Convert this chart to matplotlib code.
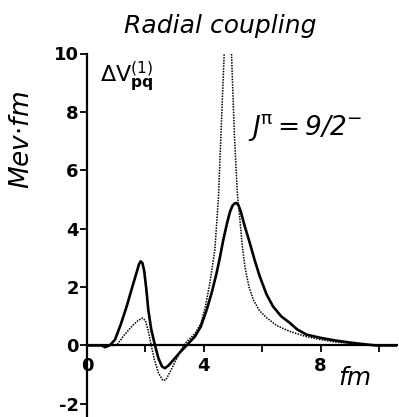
import matplotlib
matplotlib.use("Agg")
import matplotlib.pyplot as plt

plt.rcParams['mathtext.fontset'] = 'custom'
plt.rcParams['mathtext.it'] = 'DejaVu Sans:italic'
plt.rcParams['mathtext.rm'] = 'DejaVu Sans'
plt.rcParams['mathtext.bf'] = 'DejaVu Sans:bold'
plt.rcParams['mathtext.sf'] = 'DejaVu Sans:italic'

# radial coupling form factor, solid curve
solid_x = [0.0, 0.5, 0.62, 0.8, 0.96, 1.15, 1.36, 1.55, 1.7, 1.78, 1.84, 1.9, 1.96, 2.03, 2.1,
           2.2, 2.33, 2.45, 2.57, 2.67, 2.8, 3.0, 3.2, 3.41, 3.7, 3.9, 4.1, 4.27, 4.44, 4.55,
           4.67, 4.8, 4.9, 4.98, 5.05, 5.12, 5.19, 5.27, 5.4, 5.58, 5.75, 5.92, 6.15, 6.37,
           6.65, 6.95, 7.2, 7.52, 8.0, 8.5, 9.0, 9.5, 9.9, 10.6]
solid_y = [0.0, 0.0, -0.06, 0.02, 0.2, 0.7, 1.34, 2.0, 2.5, 2.78, 2.88, 2.82, 2.55, 1.95, 1.22,
           0.55, 0.0, -0.45, -0.72, -0.78, -0.68, -0.45, -0.22, 0.0, 0.31, 0.65, 1.22, 1.8, 2.48,
           3.0, 3.62, 4.2, 4.58, 4.78, 4.86, 4.88, 4.8, 4.58, 4.1, 3.5, 2.9, 2.36, 1.75, 1.34,
           1.0, 0.77, 0.55, 0.37, 0.26, 0.17, 0.1, 0.04, 0.0, 0.0]

# dotted curve
dot_x = [0.0, 0.9, 1.05, 1.24, 1.4, 1.59, 1.75, 1.9, 2.0, 2.1, 2.2, 2.3, 2.45, 2.6, 2.7,
         2.85, 3.0, 3.15, 3.3, 3.5, 3.7, 3.9, 4.05, 4.21, 4.38, 4.5, 4.6, 4.7, 4.83, 4.95,
         5.05, 5.15, 5.24, 5.32, 5.41, 5.55, 5.7, 5.9, 6.15, 6.5, 6.95, 7.52, 8.0, 8.5,
         9.0, 9.5, 10.0, 10.6]
dot_y = [0.0, 0.0, 0.05, 0.31, 0.5, 0.71, 0.85, 0.94, 0.85, 0.5, 0.0, -0.45, -0.95, -1.2, -1.18,
         -0.9, -0.6, -0.3, 0.0, 0.22, 0.4, 0.75, 1.3, 2.14, 3.28, 5.0, 7.5, 10.0, 13.0, 10.0,
         7.2, 5.2, 4.3, 3.4, 2.7, 2.0, 1.56, 1.2, 0.95, 0.68, 0.48, 0.3, 0.2, 0.12,
         0.07, 0.03, 0.0, 0.0]

xticks = [0, 2, 4, 6, 8, 10]
xtick_labels = ['0', '', '4', '', '8', '']
yticks = [-2, 0, 2, 4, 6, 8, 10]

W, H = 399, 417
fig = plt.figure(figsize=(W / 100, H / 100), dpi=100)
ax = fig.add_axes([87 / W, 1.5 / H, 310 / W, 362 / H])

ax.plot(solid_x, solid_y, color='black', lw=1.9, solid_joinstyle='round')
ax.plot(dot_x, dot_y, color='black', lw=1.1, ls=(0, (1, 0.8)))

ax.set_xlim(0, 10.62)
ax.set_ylim(-2.4, 10.0)

ax.spines['left'].set_position(('data', 0))
ax.spines['bottom'].set_position(('data', 0))
ax.spines['top'].set_visible(False)
ax.spines['right'].set_visible(False)
for s in ('left', 'bottom'):
    ax.spines[s].set_linewidth(1.6)

ax.set_xticks(xticks)
ax.set_xticklabels(xtick_labels)
ax.set_yticks(yticks)
ax.set_yticklabels([str(v) for v in yticks])
ax.tick_params(axis='both', direction='out', length=5, width=1.3,
               labelsize=13)
ax.tick_params(axis='x', pad=3)
ax.tick_params(axis='y', pad=1)
for lab in ax.get_xticklabels() + ax.get_yticklabels():
    lab.set_fontweight('bold')

fig.text(220 / W, 1 - 33 / H, 'Radial coupling', ha='center', va='baseline',
         fontsize=18, style='italic')
fig.text(22 / W, 1 - 140 / H, r'Mev$\cdot$fm', ha='center', va='center',
         rotation=90, fontsize=19, style='italic')
fig.text(100 / W, 1 - 82 / H, r'$\Delta\mathrm{V}^{(1)}_{\mathbf{pq}}$', ha='left',
         va='baseline', fontsize=16)
fig.text(248 / W, 1 - 135 / H, r'$\mathsf{J}^{\mathrm{\pi}}\mathsf{{=}9/2}^{-}$',
         ha='left', va='baseline', fontsize=19)
fig.text(338 / W, 1 - 385 / H, 'fm', ha='left', va='baseline', fontsize=18,
         style='italic')

fig.savefig('out.png', dpi=100)
